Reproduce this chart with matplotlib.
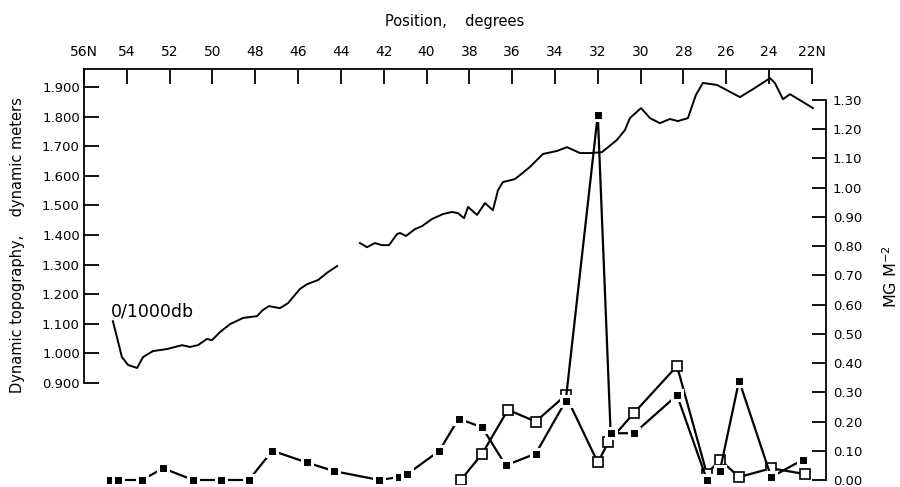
import matplotlib
matplotlib.use('Agg')
import matplotlib.pyplot as plt
import numpy as np

# dynamic topography 0/1000 db (dynamic meters), gap between ~44N and ~43N
topo_lat = [54.65, 54.46, 54.23, 53.94, 53.52, 53.24, 52.78, 52.12, 51.42, 51.05,
            50.68, 50.26, 50.02, 49.65, 49.18, 48.57, 47.92, 47.64, 47.36, 46.85,
            46.47, 45.91, 45.58, 45.07, 44.60, 44.18, 43.60,
            43.11, 42.78, 42.41, 42.08, 41.75, 41.38, 41.24, 40.96, 40.54, 40.21,
            39.75, 39.23, 38.81, 38.53, 38.25, 38.06, 37.64, 37.27, 36.90, 36.66,
            36.43, 35.87, 35.17, 34.56, 33.91, 33.44, 32.83, 32.37, 31.81, 31.11,
            30.73, 30.50, 29.98, 29.56, 29.10, 28.63, 28.26, 27.79, 27.42, 27.09,
            26.43, 25.36, 24.66, 23.96, 23.73, 23.35, 23.02, 21.95]
topo_val = [1.109, 1.055, 0.988, 0.961, 0.951, 0.988, 1.008, 1.015, 1.028, 1.022,
            1.028, 1.049, 1.045, 1.072, 1.099, 1.120, 1.126, 1.147, 1.160, 1.153,
            1.170, 1.218, 1.234, 1.248, 1.275, 1.295, np.nan,
            1.373, 1.359, 1.373, 1.366, 1.366, 1.403, 1.407, 1.397, 1.420, 1.430,
            1.454, 1.471, 1.478, 1.474, 1.457, 1.495, 1.468, 1.508, 1.484, 1.552,
            1.579, 1.589, 1.630, 1.674, 1.684, 1.697, 1.677, 1.677, 1.680, 1.721,
            1.755, 1.795, 1.829, 1.795, 1.778, 1.792, 1.785, 1.795, 1.873, 1.914,
            1.907, 1.866, 1.897, 1.930, 1.914, 1.859, 1.876, 1.829]

# filled squares (MG M-2)
filled_lat = [54.8, 54.4, 53.3, 52.3, 50.9, 49.6, 48.3, 47.2, 45.6, 44.3, 42.2, 41.3,
              40.9, 39.4, 38.5, 37.4, 36.3, 34.9, 33.5, 32.0, 31.4, 30.3, 28.3, 26.9,
              26.3, 25.4, 23.9, 22.4]
filled_val = [0.00, 0.00, 0.00, 0.04, 0.00, 0.00, 0.00, 0.10, 0.06, 0.03, 0.00, 0.01,
              0.02, 0.10, 0.21, 0.18, 0.05, 0.09, 0.27, 1.25, 0.16, 0.16, 0.29, 0.00,
              0.03, 0.34, 0.01, 0.07]

# open squares (MG M-2)
open_lat = [38.4, 37.4, 36.2, 34.9, 33.5, 32.0, 31.5, 30.3, 28.3, 26.9, 26.3, 25.4, 23.9, 22.3]
open_val = [0.00, 0.09, 0.24, 0.20, 0.29, 0.06, 0.13, 0.23, 0.39, 0.02, 0.07, 0.01, 0.04, 0.02]

lat_ticks = list(range(56, 21, -2))
lat_labels = ['56N'] + [str(v) for v in lat_ticks[1:-1]] + ['22N']
left_ticks = [0.9 + 0.1 * i for i in range(11)]
right_ticks = [0.1 * i for i in range(14)]

plt.rcParams['font.family'] = ['DejaVu Sans']
fig = plt.figure(figsize=(9, 4.87), dpi=100)
ax = fig.add_axes([84 / 900, 3 / 487, 742 / 900, 415 / 487])
ax.set_xlim(56, 21.34)
ax.set_ylim(0.559, 1.961)

ax.plot(topo_lat, topo_val, color='black', lw=1.4)
ax.text(54.75, 1.143, '0/1000db', fontsize=12.5, ha='left', va='center')

ax.xaxis.tick_top()
ax.xaxis.set_label_position('top')
ax.set_xticks(lat_ticks)
ax.set_xticklabels(lat_labels, fontsize=10)
ax.set_xlabel('Position,    degrees', fontsize=10.5, labelpad=14)
ax.set_yticks(left_ticks)
ax.set_yticklabels(['%.3f' % v for v in left_ticks], fontsize=9.5)
ax.set_ylabel('Dynamic topography,    dynamic meters', fontsize=10.5)
ax.yaxis.set_label_coords(-0.079, 0.576)
ax.tick_params(axis='x', direction='in', length=11, width=1.3, pad=7)
ax.tick_params(axis='y', direction='in', length=11, width=1.3, pad=3)
ax.spines['bottom'].set_visible(False)
ax.spines['right'].set_visible(False)
ax.spines['top'].set_bounds(56, 22)
ax.spines['left'].set_bounds(0.9, 1.961)
for s in ['top', 'left']:
    ax.spines[s].set_linewidth(1.3)

ax2 = ax.twinx()
ax2.set_ylim(-0.0137, 1.406)
ax2.plot(open_lat, open_val, color='black', lw=1.6, marker='s', ms=6.5,
         mfc='white', mec='black', mew=1.2, zorder=3)
ax2.plot(filled_lat, filled_val, color='black', lw=1.6, marker='s', ms=7.4,
         mfc='black', mec='white', mew=2.2, zorder=4)
ax2.set_yticks(right_ticks)
ax2.set_yticklabels(['%.2f' % v for v in right_ticks], fontsize=9.5)
ax2.set_ylabel('MG M$^{-2}$', fontsize=11.5)
ax2.yaxis.set_label_coords(1.075, 0.5)
ax2.tick_params(axis='y', direction='in', length=10, width=1.3, pad=5)
for s in ['top', 'bottom', 'left']:
    ax2.spines[s].set_visible(False)
ax2.spines['right'].set_bounds(0, 1.3)
ax2.spines['right'].set_linewidth(1.3)

fig.savefig('out.png', dpi=100)
